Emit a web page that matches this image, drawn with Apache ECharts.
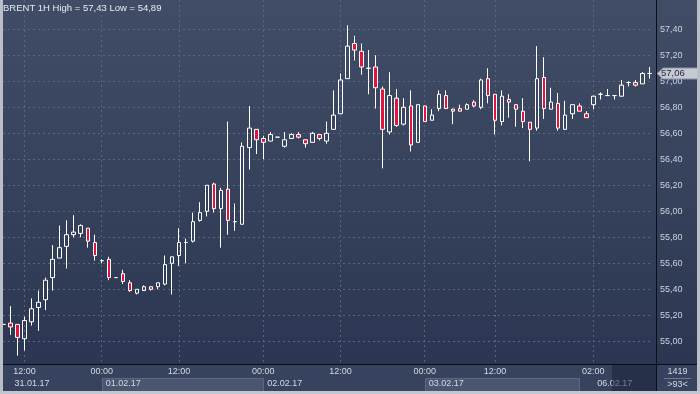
<!DOCTYPE html>
<html>
<head>
<meta charset="utf-8">
<script src="https://cdn.jsdelivr.net/npm/echarts/dist/echarts.min.js"></script>
<style>
html,body{margin:0;padding:0;background:#2e3954;}
#c{width:700px;height:394px;background:linear-gradient(#414d67,#2a3450);}
</style>
</head>
<body>
<div id="c"></div>
<script>
// ---- data ----
const days = ['31.01.17', '01.02.17', '02.02.17', '03.02.17', '06.02.17'];
const hours = [
  ['09:00','10:00','11:00','12:00','13:00','14:00','15:00','16:00','17:00','18:00','19:00','20:00','21:00','22:00'],
  ['00:00','02:00','03:00','04:00','05:00','06:00','07:00','08:00','09:00','10:00','11:00','12:00','13:00','14:00','15:00','16:00','17:00','18:00','19:00','20:00','21:00','22:00','23:00'],
  ['00:00','02:00','03:00','04:00','05:00','06:00','07:00','08:00','09:00','10:00','11:00','12:00','13:00','14:00','15:00','16:00','17:00','18:00','19:00','20:00','21:00','22:00','23:00'],
  ['00:00','03:00','04:00','05:00','06:00','07:00','08:00','09:00','10:00','11:00','12:00','13:00','14:00','15:00','16:00','17:00','18:00','19:00','20:00','21:00','22:00','23:00'],
  ['00:00','01:00','02:00','03:00','04:00','05:00','06:00','07:00','08:00','09:00','10:00']
];
const open = [55.13,55.14,55.13,55.02,55.15,55.26,55.32,55.49,55.64,55.73,55.82,55.83,55.87,55.76,55.62,55.63,55.49,55.52,55.45,55.37,
  55.39,55.42,55.42,55.44,55.60,55.66,55.76,55.77,55.93,56.00,56.21,56.02,56.17,55.92,55.90,56.49,56.63,56.56,56.54,56.57,
  56.50,56.56,56.59,56.55,56.53,56.59,56.54,56.63,56.75,57.02,57.29,57.23,57.10,57.11,56.94,56.61,56.87,56.67,56.81,56.53,
  56.81,56.70,56.79,56.89,56.785,56.79,56.785,56.84,56.80,57.02,56.90,56.69,56.86,56.82,56.77,56.685,56.64,57.03,56.785,56.83,
  56.63,56.75,56.81,56.75,56.82,56.90,56.89,56.89,56.885,56.99,56.99,56.98,57.06];
const close = [55.13,55.11,55.03,55.16,55.25,55.30,55.47,55.63,55.72,55.82,55.84,55.89,55.77,55.66,55.62,55.49,55.49,55.46,55.39,55.40,
  55.42,55.40,55.45,55.59,55.65,55.76,55.76,55.92,55.99,56.20,56.02,56.16,55.93,55.92,56.50,56.64,56.55,56.53,56.59,56.57,
  56.55,56.59,56.57,56.52,56.60,56.56,56.60,56.74,57.01,57.27,57.24,57.11,57.10,56.95,56.63,56.89,56.66,56.80,56.51,56.82,
  56.69,56.74,56.90,56.79,56.77,56.77,56.82,56.81,57.01,56.89,56.70,56.885,56.84,56.785,56.69,56.63,57.02,56.79,56.84,56.64,
  56.74,56.82,56.77,56.72,56.885,56.90,56.89,56.89,56.97,56.99,56.97,57.06,57.06];
const low = [55.13,55.05,54.89,54.93,55.12,55.08,55.24,55.39,55.64,55.56,55.80,55.80,55.72,55.62,55.60,55.47,55.49,55.44,55.38,55.36,
  55.39,55.39,55.40,55.43,55.36,55.58,55.60,55.76,55.92,55.96,55.99,55.72,55.82,55.85,55.90,56.32,56.44,56.40,56.54,56.57,
  56.49,56.56,56.56,56.49,56.53,56.545,56.52,56.63,56.75,57.02,57.16,57.05,56.90,56.79,56.33,56.59,56.65,56.66,56.46,56.53,
  56.69,56.70,56.77,56.79,56.67,56.77,56.785,56.80,56.785,56.83,56.59,56.66,56.72,56.65,56.64,56.385,56.62,56.71,56.785,56.62,
  56.63,56.71,56.77,56.72,56.785,56.86,56.89,56.86,56.885,56.96,56.96,56.98,57.02];
const high = [55.13,55.27,55.13,55.19,55.33,55.39,55.49,55.74,55.89,55.93,55.97,55.90,55.87,55.82,55.63,55.65,55.49,55.55,55.47,55.40,
  55.43,55.42,55.45,55.66,55.65,55.87,55.79,55.99,56.07,56.20,56.22,56.18,56.69,56.06,56.53,56.81,56.63,56.58,56.61,56.57,
  56.61,56.60,56.61,56.55,56.61,56.59,56.69,56.93,57.06,57.43,57.35,57.29,57.24,57.20,56.96,57.07,56.94,56.87,56.93,56.82,
  56.81,56.785,56.93,56.93,56.79,56.82,56.83,56.855,57.02,57.10,56.90,56.93,56.90,56.82,56.87,56.685,57.27,57.185,56.95,56.91,
  56.85,56.82,56.83,56.77,56.89,56.915,56.94,56.89,57.01,57.00,57.01,57.07,57.11];
const tickKeys = ['31.01.17 12:00','01.02.17 00:00','01.02.17 12:00','02.02.17 00:00','02.02.17 12:00','03.02.17 00:00','03.02.17 12:00','06.02.17 02:00'];
const yTicks = [55.0,55.2,55.4,55.6,55.8,56.0,56.2,56.4,56.6,56.8,57.0,57.2,57.4];
const symbolName = 'BRENT 1H';
const cornerCode = '1419';

// ---- build ----
const cats = [];
const dayStart = [];
days.forEach((d, k) => { dayStart.push(cats.length); hours[k].forEach(h => cats.push(d + ' ' + h)); });
dayStart.push(cats.length);
const ohlc = cats.map((_, i) => [open[i], close[i], low[i], high[i]]);
const fmt = v => v.toFixed(2).replace('.', ',');
const FONT = "'Liberation Sans', Arial, sans-serif";
const txt = '#d3d8e2';

const chart = echarts.init(document.getElementById('c'), null, {renderer: 'canvas'});
chart.setOption({
  animation: false,
  backgroundColor: 'transparent',
  title: {
    text: symbolName + ' High = ' + fmt(Math.max(...high)) + ' Low = ' + fmt(Math.min(...low)),
    left: 3, top: 3, padding: 0,
    textStyle: {color: '#e8ebf1', fontSize: 9.5, fontWeight: 'normal', fontFamily: FONT}
  },
  grid: {left: 0, right: 47, top: 0, bottom: 26.7, containLabel: false},
  xAxis: {
    type: 'category', data: cats, boundaryGap: true, z: 3,
    axisLine: {show: false}, axisTick: {show: false}, splitLine: {show: false},
    axisLabel: {
      interval: (i, v) => tickKeys.includes(v),
      formatter: v => v.split(' ')[1],
      color: txt, fontSize: 9, fontFamily: FONT, margin: 0
    }
  },
  yAxis: {
    type: 'value', position: 'right', min: 54.8, max: 57.625, interval: 0.2, scale: true,
    axisLine: {show: false}, axisTick: {show: false}, splitLine: {show: false},
    axisLabel: {
      formatter: v => yTicks.some(t => Math.abs(t - v) < 1e-6) ? fmt(v) : '',
      color: '#cdd3de', fontSize: 9, fontFamily: FONT, margin: 7
    }
  },
  series: [{
    type: 'candlestick', data: ohlc, barWidth: 4,
    itemStyle: {
      color: 'rgba(0,0,0,0)', color0: '#e0143c',
      borderColor: '#ffffff', borderColor0: '#ffffff', borderColorDoji: '#ffffff', borderWidth: 1
    }
  }]
});

const px = i => chart.convertToPixel({xAxisIndex: 0}, i);
const py = v => chart.convertToPixel({yAxisIndex: 0}, v);
const crisp = a => Math.round(a - 0.5) + 0.5;
const G = [];
const gridColor = '#5a6680';
yTicks.forEach(v => {
  const y = crisp(py(v));
  G.push({type: 'line', silent: true, z: 0, shape: {x1: 3, y1: y, x2: 653, y2: y}, style: {stroke: gridColor, lineWidth: 1, lineDash: [2, 3]}});
});
tickKeys.forEach(k => {
  const x = crisp(px(cats.indexOf(k)));
  G.push({type: 'line', silent: true, z: 0, shape: {x1: x, y1: 0, x2: x, y2: 364}, style: {stroke: gridColor, lineWidth: 1, lineDash: [2, 3]}});
});
// bottom strip
G.push({type: 'rect', silent: true, z: 1, shape: {x: 0, y: 365, width: 700, height: 27}, style: {fill: '#37435e'}});
// date boxes (alternate days)
[1, 3].forEach(k => {
  const x1 = Math.round(px(dayStart[k])), x2 = Math.round(px(dayStart[k + 1]));
  G.push({type: 'rect', silent: true, z: 2, shape: {x: x1 + 0.5, y: 378.5, width: x2 - x1, height: 13}, style: {fill: '#4a5670', stroke: '#5c6883', lineWidth: 1}});
});
// date labels
days.forEach((d, k) => {
  const anchor = cats.indexOf(tickKeys.find(t => t.startsWith(d)));
  const x = k === 0 ? px(anchor) - 10 : px(anchor) + 4;
  G.push({type: 'text', silent: true, z: 4, style: {x: x, y: 384, text: d, fill: txt, font: '9px ' + FONT, textVerticalAlign: 'middle', textAlign: 'left'}});
});
// dark overlay at right of x-axis strip
G.push({type: 'rect', silent: true, z: 5, shape: {x: 612, y: 365, width: 44.5, height: 26}, style: {fill: 'rgba(22,30,50,0.5)'}});
// separators
G.push({type: 'line', silent: true, z: 6, shape: {x1: 0, y1: 364.5, x2: 700, y2: 364.5}, style: {stroke: '#0a0e16', lineWidth: 1}});
G.push({type: 'line', silent: true, z: 6, shape: {x1: 656.5, y1: 0, x2: 656.5, y2: 391}, style: {stroke: '#0a0e16', lineWidth: 1}});
// corner texts
G.push({type: 'text', silent: true, z: 6, style: {x: 677.5, y: 372, text: cornerCode, fill: txt, font: '9px ' + FONT, textAlign: 'center', textVerticalAlign: 'middle'}});
G.push({type: 'line', silent: true, z: 6, shape: {x1: 664, y1: 378.5, x2: 691, y2: 378.5}, style: {stroke: '#6f7a90', lineWidth: 1}});
G.push({type: 'text', silent: true, z: 6, style: {x: 677.5, y: 385, text: '>' + cats.length + '<', fill: txt, font: '9px ' + FONT, textAlign: 'center', textVerticalAlign: 'middle'}});
// last price tag
const lastClose = close[close.length - 1];
const ly = Math.round(py(lastClose)) + 0.5;
G.push({type: 'polygon', silent: true, z: 10, shape: {points: [[657, ly], [663, ly - 5.5], [698, ly - 5.5], [698, ly + 5.5], [663, ly + 5.5]]}, style: {fill: '#c6cad2', stroke: '#8b92a2', lineWidth: 1}});
G.push({type: 'text', silent: true, z: 11, style: {x: 661, y: ly, text: fmt(lastClose), fill: '#1a2340', font: '9.5px ' + FONT, textVerticalAlign: 'middle', textAlign: 'left'}});
// frame borders
G.push({type: 'rect', silent: true, z: 12, shape: {x: 0, y: 0, width: 3, height: 394}, style: {fill: '#b9bec7'}});
G.push({type: 'rect', silent: true, z: 12, shape: {x: 697, y: 0, width: 3, height: 394}, style: {fill: '#b9bec7'}});
G.push({type: 'rect', silent: true, z: 12, shape: {x: 0, y: 391, width: 700, height: 3}, style: {fill: '#c2c6ce'}});
chart.setOption({graphic: {elements: G}});
</script>
</body>
</html>
